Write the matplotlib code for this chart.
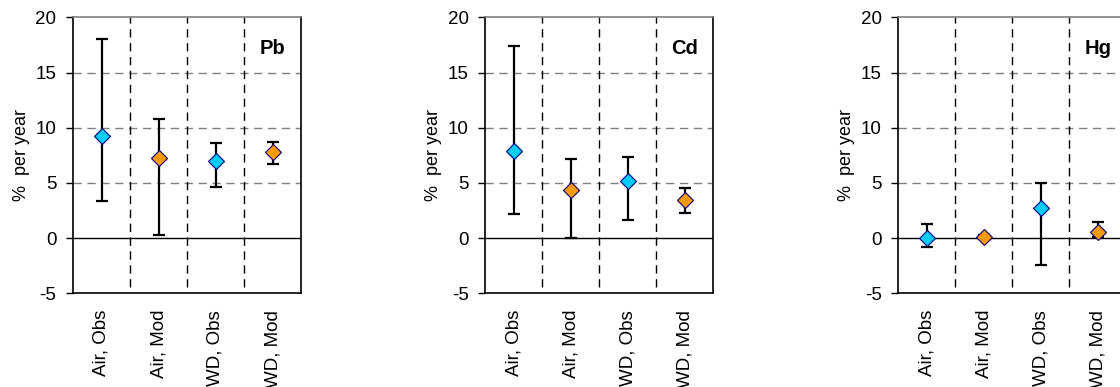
import matplotlib
matplotlib.use("Agg")
import matplotlib.pyplot as plt
import numpy as np

plt.rcParams['font.family'] = ['Liberation Sans', 'DejaVu Sans']

categories = ["Air, Obs", "Air, Mod", "WD, Obs", "WD, Mod"]
panels = ["Pb", "Cd", "Hg"]

pb_val = [9.25, 7.3, 7.0, 7.8]
pb_low = [3.4, 0.3, 4.66, 6.7]
pb_high = [18.05, 10.75, 8.65, 8.68]

cd_val = [7.92, 4.4, 5.21, 3.48]
cd_low = [2.22, 0.05, 1.67, 2.31]
cd_high = [17.43, 7.17, 7.38, 4.57]

hg_val = [0.05, 0.13, 2.76, 0.53]
hg_low = [-0.83, 0.0, -2.4, 0.1]
hg_high = [1.25, 0.3, 5.02, 1.46]

values = [pb_val, cd_val, hg_val]
lows = [pb_low, cd_low, hg_low]
highs = [pb_high, cd_high, hg_high]

obs_color = "#00CCFF"
mod_color = "#FF9900"
colors = [obs_color, mod_color, obs_color, mod_color]

W, H = 1120, 387
fig = plt.figure(figsize=(W / 100, H / 100), dpi=100)

lefts = [73, 485.3, 898.3]
ax_w, ax_top, ax_bot = 228, 17.3, 293.3

for i, name in enumerate(panels):
    ax = fig.add_axes([lefts[i] / W, (H - ax_bot) / H, ax_w / W, (ax_bot - ax_top) / H])
    x = np.arange(1, len(categories) + 1)
    val = np.array(values[i])
    lo = np.array(lows[i])
    hi = np.array(highs[i])
    ax.set_xlim(0.5, 4.5)
    ax.set_ylim(-5, 20)
    for yv in [5, 10, 15]:
        ax.axhline(yv, color="#808080", lw=1.0, ls=(0, (6, 4)), zorder=1)
    ax.axhline(0, color="black", lw=1.0, zorder=1)
    ax.vlines([1.5, 2.5, 3.5], -4.45, 20, colors="black", lw=1.0,
              linestyles=[(0, (6, 4))], zorder=1)
    ax.errorbar(x, val, yerr=[val - lo, hi - val], fmt="none", ecolor="black",
                elinewidth=1.6, capsize=4, capthick=1.6, zorder=2)
    for xi, v, c in zip(x, val, colors):
        ax.plot(xi, v, marker="D", ms=8.2, mfc=c, mec="#000080", mew=0.8,
                ls="none", zorder=3)
    ax.text(4.0, 17.2, name, ha="center", va="center", fontsize=14.5,
            fontweight="bold")
    ax.set_xticks(x)
    ax.set_xticklabels(categories, rotation=90, fontsize=13.5)
    ax.tick_params(axis="x", length=0, pad=12)
    ax.set_yticks([-5, 0, 5, 10, 15, 20])
    ax.set_yticklabels(["-5", "0", "5", "10", "15", "20"], fontsize=13.5)
    ax.tick_params(axis="y", direction="out", length=5, width=1, pad=7)
    ax.set_ylabel("%  per year", fontsize=13, labelpad=4)
    for s in ["left", "bottom", "right"]:
        ax.spines[s].set_color("black")
        ax.spines[s].set_linewidth(1.2)
    ax.spines["top"].set_color("#808080")
    ax.spines["top"].set_linewidth(1.2)

fig.savefig("out.png", dpi=100)
